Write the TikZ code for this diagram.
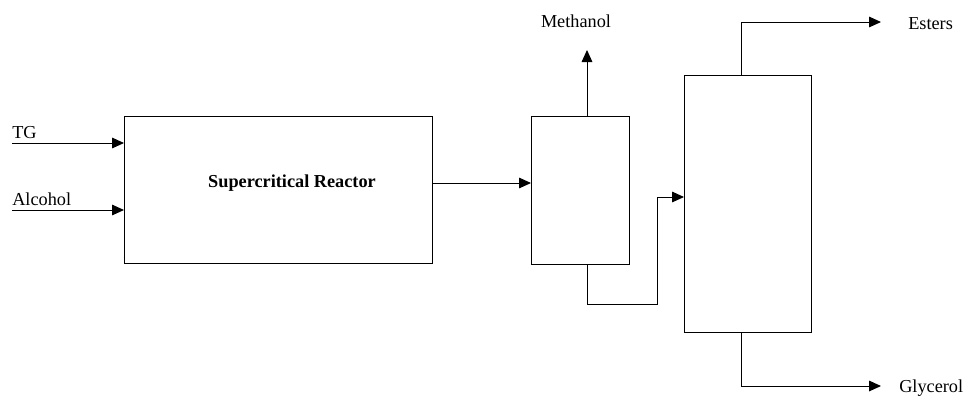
\documentclass[tikz,border=0pt]{standalone}
\usepackage{fontspec}
\setmainfont{Liberation Serif}
\usetikzlibrary{arrows.meta, positioning}

\begin{document}
\begin{tikzpicture}[
  x=0.75pt, y=-0.75pt,
  %% box styles
  unit/.style={
    rectangle, draw=black, line width=0.75pt,
    inner sep=0pt, outer sep=0pt},
  reactorbox/.style={unit, minimum width=231pt, minimum height=110.25pt},
  flashbox/.style={unit, minimum width=73.5pt, minimum height=111pt},
  columnbox/.style={unit, minimum width=95.25pt, minimum height=192.75pt},
  arr/.style={-{Triangle[length=9pt, width=8pt]}, line width=0.75pt, black},
  pipe/.style={line width=0.75pt, black},
  lbl/.style={font=\fontsize{13.7}{16}\selectfont, inner sep=0pt}
]
\useasboundingbox (0,0) rectangle (969,400);

%% -- Units ----------------------------------------------------------------
\node[reactorbox] (reactor) at (278,189.5) {};
\node[lbl, font=\fontsize{13.7}{16}\selectfont\bfseries] (reactorlbl) at (292,183) {Supercritical Reactor};
\node[flashbox] (flash) at (580,190) {};
\node[columnbox] (column) at (747.5,203.5) {};

%% -- Stream end points ----------------------------------------------------
\coordinate (tgin) at (12,143);
\coordinate (alcin) at (12,210);
\coordinate (effl) at (0,183);
\coordinate (meoh) at (587,50);
\coordinate (bend) at (657,304);
\coordinate (feed) at (0,197);
\coordinate (stem) at (741,0);
\coordinate (estout) at (881,22);
\coordinate (glyout) at (881,386);

%% -- Labels ---------------------------------------------------------------
\node[lbl, anchor=south west] (tglbl) at (12,139) {TG};
\node[lbl, anchor=south west] (alclbl) at (12,206) {Alcohol};
\node[lbl] (meohlbl) at (576,21) {Methanol};
\node[lbl, anchor=west] (estlbl) at (908,24) {Esters};
\node[lbl, anchor=west] (glylbl) at (899,388) {Glycerol};

%% -- Streams --------------------------------------------------------------
\draw[arr] (tgin) -- (tgin -| reactor.west);
\draw[arr] (alcin) -- (alcin -| reactor.west);
\draw[arr] (effl -| reactor.east) -- (effl -| flash.west);
\draw[arr] (meoh |- flash.north) -- (meoh);
\draw[arr] (meoh |- flash.south) |- (bend) |- (feed -| column.west);
\draw[arr] (stem |- column.north) |- (estout);
\draw[arr] (stem |- column.south) |- (glyout);

\end{tikzpicture}
\end{document}
